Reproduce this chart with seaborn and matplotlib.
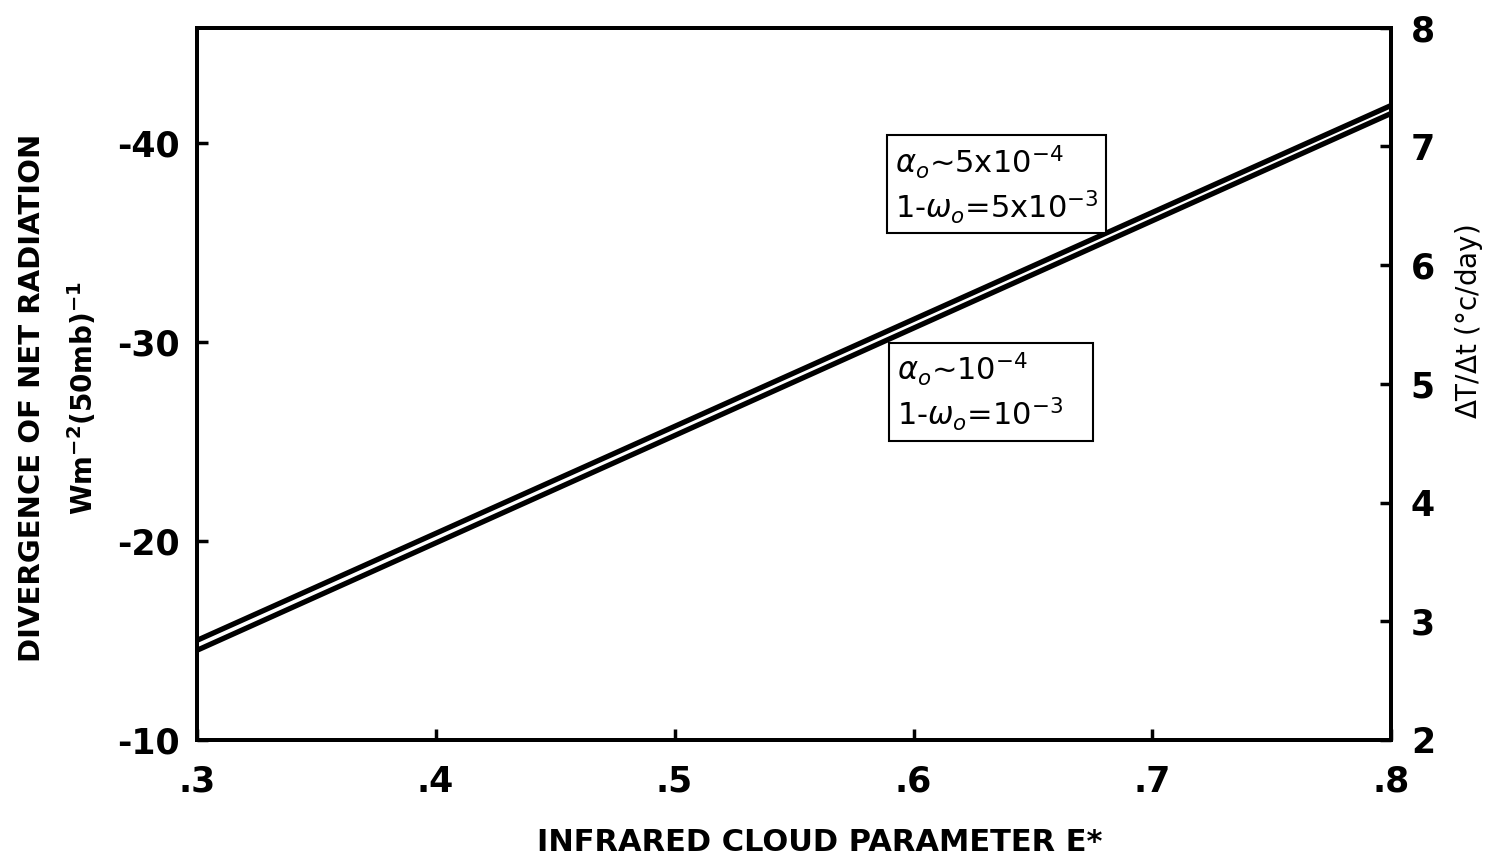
import matplotlib
matplotlib.use("Agg")
import matplotlib.pyplot as plt
import seaborn as sns
import pandas as pd

# ---- data ----
e_star = [0.3, 0.8]
div_alpha_5e4 = [-15.0, -41.9]   # alpha_o ~ 5x10^-4, 1-omega_o = 5x10^-3
div_alpha_1e4 = [-14.5, -41.5]   # alpha_o ~ 10^-4,   1-omega_o = 10^-3
x_ticks = [0.3, 0.4, 0.5, 0.6, 0.7, 0.8]
x_tick_labels = [".3", ".4", ".5", ".6", ".7", ".8"]
left_ticks = [-10, -20, -30, -40]
right_ticks = [2, 3, 4, 5, 6, 7, 8]

sns.set_theme(style="ticks")
plt.rcParams["font.family"] = ["DejaVu Sans"]
plt.rcParams.update({
    "text.color": "black", "axes.labelcolor": "black",
    "axes.edgecolor": "black", "xtick.color": "black", "ytick.color": "black",
})

df = pd.DataFrame({
    "E": e_star * 2,
    "div": div_alpha_5e4 + div_alpha_1e4,
    "case": ["a5"] * 2 + ["a1"] * 2,
})

fig = plt.figure(figsize=(15.01, 8.66), dpi=100)
ax = fig.add_axes([0.131, 0.1455, 0.796, 0.8225])

sns.lineplot(data=df, x="E", y="div", units="case", estimator=None,
             color="black", lw=3.8, ax=ax, legend=False)

ax.set_xlim(0.3, 0.8)
ax.set_ylim(-10, -45.8)
ax.set_xticks(x_ticks)
ax.set_xticklabels(x_tick_labels)
ax.set_yticks(left_ticks)
ax.set_yticklabels([str(t) for t in left_ticks])
ax.tick_params(axis="both", direction="in", length=8, width=2.5,
               labelsize=25, colors="black")
ax.tick_params(axis="x", pad=18)
ax.tick_params(axis="y", pad=12)
for lab in ax.get_xticklabels() + ax.get_yticklabels():
    lab.set_fontweight("bold")
for s in ax.spines.values():
    s.set_linewidth(2.8)
    s.set_color("black")
ax.set_xlabel("")
ax.set_ylabel("")

ax2 = ax.twinx()
ax2.set_ylim(2, 8)
ax2.set_yticks(right_ticks)
ax2.tick_params(axis="y", direction="in", length=8, width=2.5,
                labelsize=25, pad=14, colors="black")
for lab in ax2.get_yticklabels():
    lab.set_fontweight("bold")
for s in ax2.spines.values():
    s.set_linewidth(2.8)
    s.set_color("black")

# axis labels
fig.text(0.546, 0.027, "INFRARED CLOUD PARAMETER E*", ha="center", va="center",
         fontsize=22, fontweight="bold")
fig.text(0.021, 0.54, "DIVERGENCE OF NET RADIATION", rotation=90,
         ha="center", va="center", fontsize=21, fontweight="bold")
fig.text(0.055, 0.54, r"Wm$^{\mathbf{-2}}$(50mb)$^{\mathbf{-1}}$", rotation=90,
         ha="center", va="center", fontsize=20, fontweight="bold")
fig.text(0.979, 0.628, r"$\Delta$T/$\Delta$t ($\degree$c/day)", rotation=90,
         ha="center", va="center", fontsize=20)

box = dict(boxstyle="square,pad=0.25", facecolor="white", edgecolor="black", lw=1.5)
ax.text(0.5845, 0.78, "$\\alpha_o$~5x10$^{-4}$\n1-$\\omega_o$=5x10$^{-3}$",
        transform=ax.transAxes, ha="left", va="center", fontsize=22,
        linespacing=1.25, bbox=box)
ax.text(0.586, 0.489, "$\\alpha_o$~10$^{-4}$\n1-$\\omega_o$=10$^{-3}$   ",
        transform=ax.transAxes, ha="left", va="center", fontsize=22,
        linespacing=1.25, bbox=box)

fig.savefig("out.png", dpi=100, facecolor="white")
